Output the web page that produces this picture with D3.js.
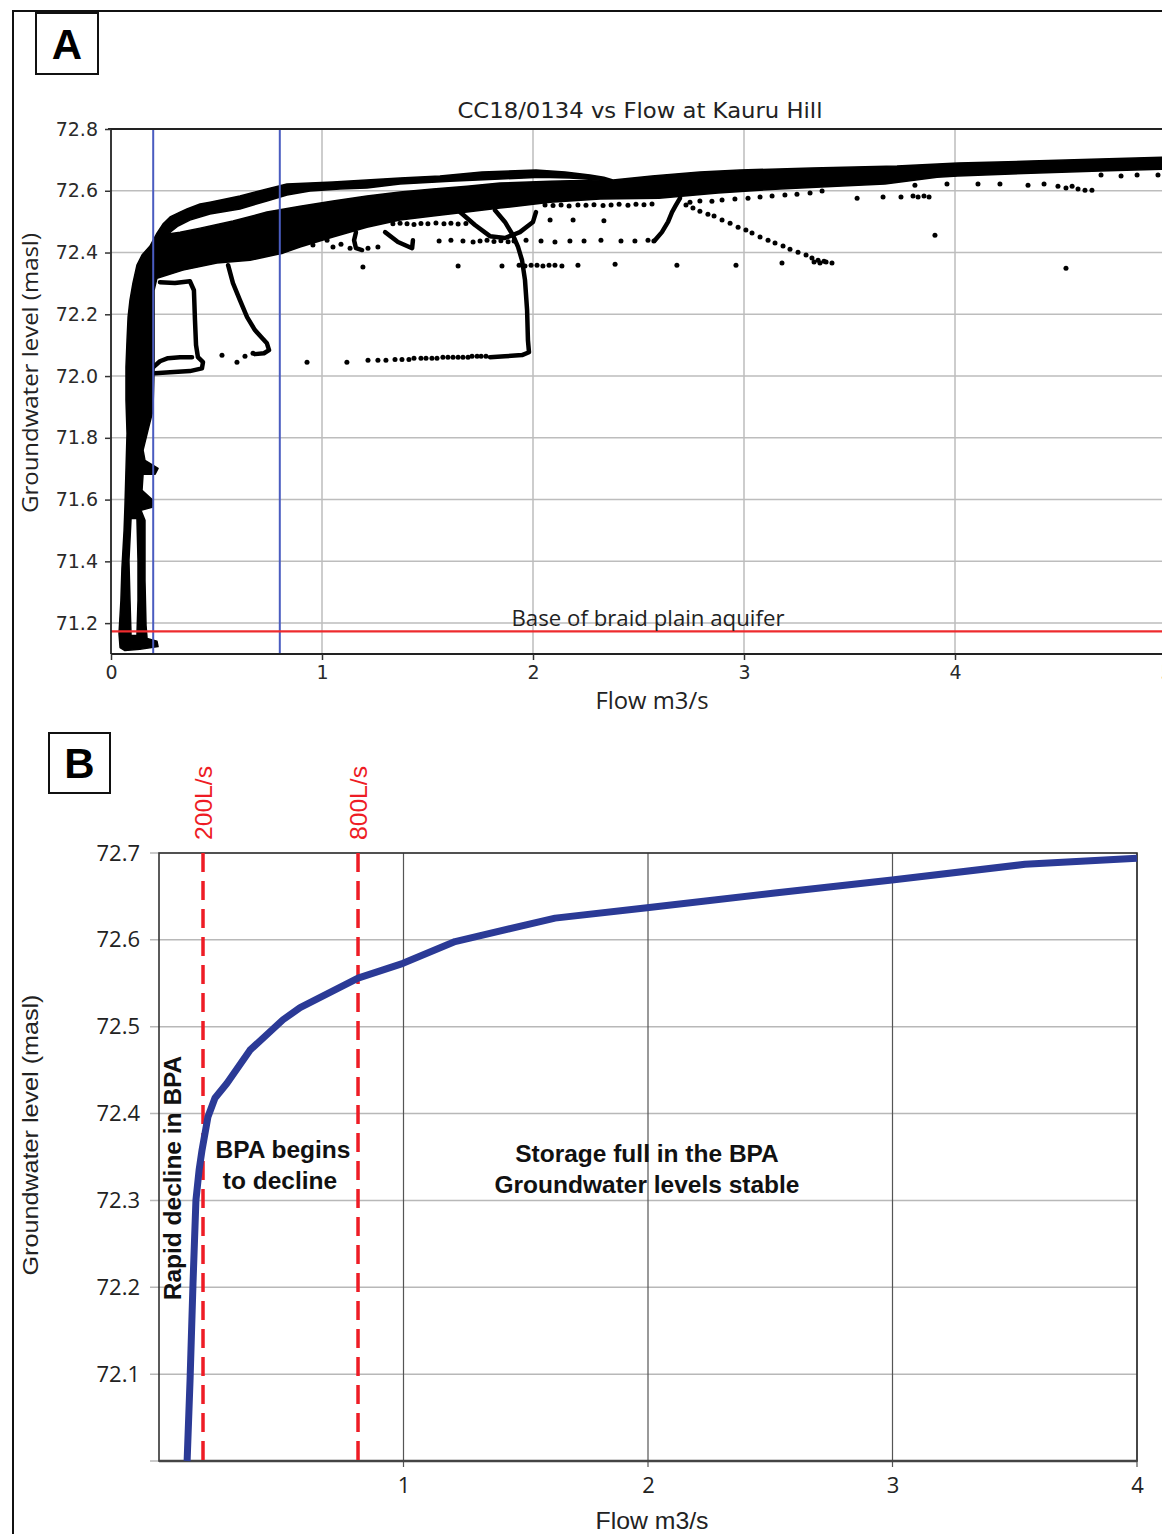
<!DOCTYPE html>
<html>
<head>
<meta charset="utf-8">
<script src="https://cdn.jsdelivr.net/npm/d3@7"></script>
<style>
  body { margin: 0; background: #fff; }
  svg { display: block; }
</style>
</head>
<body>
<svg id="fig" width="1162" height="1534"></svg>
<script>
// ---------- Panel A: CC18/0134 groundwater level vs flow (flow m3/s, level masl) ----------
const aFlowTicks = [0, 1, 2, 3, 4, 5];
const aLevelTicks = [71.2, 71.4, 71.6, 71.8, 72.0, 72.2, 72.4, 72.6, 72.8];
const aThresholds = [0.2, 0.8];
const aquiferBase = 71.173;

// outline of the saturated (overplotted) part of the scatter
const bandOutline = [
  [0.043,71.121],[0.038,71.166],[0.047,71.273],[0.052,71.380],[0.062,71.500],[0.066,71.575],
  [0.071,71.695],[0.076,71.815],[0.071,71.922],[0.071,72.029],[0.076,72.116],[0.081,72.191],
  [0.090,72.246],[0.104,72.301],[0.123,72.359],[0.147,72.392],[0.185,72.421],[0.218,72.463],
  [0.246,72.492],[0.280,72.515],[0.327,72.531],[0.360,72.541],[0.422,72.557],[0.469,72.563],
  [0.611,72.583],[0.739,72.606],[0.834,72.622],[0.943,72.625],[1.052,72.628],[1.370,72.641],
  [1.559,72.648],[1.758,72.661],[2.014,72.667],[2.152,72.661],[2.270,72.651],[2.336,72.644],
  [2.379,72.635],[2.564,72.648],[2.791,72.661],[2.981,72.667],[3.322,72.674],[3.725,72.680],
  [4.014,72.690],[4.360,72.696],[4.687,72.703],[5.000,72.709],
  [5.000,72.670],[4.687,72.664],[4.360,72.657],[4.014,72.648],[3.915,72.644],[3.668,72.622],
  [3.441,72.615],[3.171,72.606],[2.877,72.593],[2.597,72.576],[2.318,72.573],[2.081,72.563],
  [1.844,72.544],[1.687,72.531],[1.526,72.518],[1.370,72.505],[1.213,72.482],[1.052,72.450],
  [0.896,72.418],[0.815,72.398],[0.659,72.375],[0.502,72.366],[0.341,72.343],[0.218,72.317],
  [0.204,72.278],[0.204,72.149],[0.204,72.019],[0.199,71.889],[0.175,71.824],[0.152,71.760],
  [0.161,71.727],[0.223,71.701],[0.209,71.682],[0.152,71.682],[0.147,71.630],[0.199,71.598],
  [0.194,71.575],[0.142,71.565],[0.161,71.533],[0.161,71.338],[0.166,71.192],[0.171,71.150],
  [0.218,71.141],[0.223,71.124],[0.137,71.115],[0.066,71.111]
];
const columnHole = [
  [0.095,71.539],[0.123,71.539],[0.128,71.403],[0.128,71.273],[0.123,71.160],
  [0.095,71.160],[0.090,71.273],[0.085,71.403]
];
const lensHole = [
  [0.270,72.460],[0.318,72.486],[0.374,72.505],[0.469,72.525],[0.611,72.541],[0.739,72.567],
  [0.834,72.586],[0.943,72.599],[1.085,72.606],[1.213,72.609],[1.370,72.622],[1.607,72.631],
  [1.844,72.638],[2.033,72.644],[2.175,72.641],[2.318,72.635],
  [2.081,72.631],[1.844,72.625],[1.687,72.615],[1.526,72.606],[1.370,72.596],[1.213,72.583],
  [1.052,72.567],[0.896,72.550],[0.739,72.531],[0.578,72.502],[0.422,72.479],[0.327,72.466]
];

// recession tracks that leave the main band
const tracks = [
  [[0.232,72.304],[0.303,72.301],[0.374,72.307],[0.393,72.278],[0.398,72.181],[0.403,72.100],
   [0.412,72.061],[0.436,72.045],[0.431,72.025],[0.374,72.016],[0.280,72.012],[0.209,72.009]],
  [[0.194,72.025],[0.232,72.048],[0.270,72.058],[0.327,72.061],[0.384,72.061]],
  [[0.555,72.359],[0.578,72.301],[0.611,72.246],[0.645,72.191],[0.682,72.149],[0.716,72.123],
   [0.739,72.106],[0.749,72.084],[0.725,72.074],[0.682,72.071]],
  [[1.820,72.537],[1.867,72.499],[1.905,72.456],[1.929,72.418],[1.948,72.375],[1.962,72.311],
   [1.972,72.213],[1.976,72.116],[1.981,72.077],[1.948,72.068],[1.867,72.064],[1.796,72.061]],
  [[1.654,72.531],[1.725,72.489],[1.796,72.453],[1.867,72.447],[1.938,72.466],[2.000,72.499],
   [2.014,72.531]],
  [[2.578,72.440],[2.611,72.466],[2.640,72.499],[2.659,72.531],[2.678,72.554],[2.697,72.576]],
  [[1.161,72.466],[1.152,72.440],[1.161,72.414],[1.190,72.408]],
  [[1.299,72.466],[1.360,72.434],[1.427,72.414],[1.431,72.440]]
];

// single readings away from the band
const scatterDots = [
  [1.336,72.493],[1.370,72.495],[1.403,72.493],[1.436,72.491],[1.469,72.494],[1.502,72.493],
  [1.540,72.496],[1.578,72.493],[1.611,72.495],[1.645,72.492],[1.682,72.494],[2.081,72.505],
  [2.190,72.505],[2.336,72.503],
  [1.555,72.437],[1.611,72.440],[1.668,72.437],[1.716,72.434],[1.749,72.437],[1.782,72.440],
  [1.815,72.436],[1.848,72.438],[1.882,72.435],[1.910,72.437],[1.967,72.440],[2.038,72.437],
  [2.104,72.434],[2.175,72.437],[2.242,72.437],[2.322,72.440],[2.417,72.437],[2.483,72.437],
  [2.545,72.440],[2.573,72.437],
  [1.194,72.353],[1.645,72.356],[1.853,72.356],[1.934,72.359],[1.962,72.356],[1.991,72.359],
  [2.019,72.359],[2.047,72.356],[2.076,72.359],[2.104,72.359],[2.137,72.356],[2.213,72.359],
  [2.389,72.362],[2.682,72.359],[2.962,72.359],[3.180,72.366],[3.332,72.369],[3.360,72.366],
  [3.389,72.369],[3.417,72.366],[4.526,72.349],
  [0.526,72.067],[0.597,72.045],[0.635,72.064],[0.673,72.074],[0.929,72.045],[1.118,72.045],
  [1.218,72.051],[1.265,72.051],[1.303,72.051],[1.346,72.054],[1.379,72.054],[1.412,72.054],
  [1.436,72.058],[1.469,72.058],[1.493,72.058],[1.521,72.058],[1.545,72.058],[1.573,72.061],
  [1.597,72.061],[1.621,72.061],[1.645,72.061],[1.668,72.061],[1.692,72.061],[1.711,72.064],
  [1.735,72.064],[1.754,72.064],[1.777,72.064],
  [2.057,72.554],[2.095,72.552],[2.133,72.554],[2.171,72.551],[2.213,72.554],[2.251,72.553],
  [2.289,72.555],[2.332,72.552],[2.370,72.554],[2.408,72.556],[2.450,72.553],[2.488,72.556],
  [2.526,72.555],[2.564,72.557],
  [2.744,72.563],[2.791,72.567],[2.848,72.566],[2.896,72.570],[2.957,72.573],[3.019,72.576],
  [3.076,72.580],[3.133,72.583],[3.194,72.586],[3.251,72.589],[3.313,72.593],[3.370,72.599],
  [3.536,72.576],[3.659,72.580],[3.744,72.580],[3.801,72.583],[3.825,72.580],[3.853,72.583],
  [3.877,72.580],[3.905,72.456],
  [3.810,72.618],[3.962,72.622],[4.109,72.622],[4.213,72.622],[4.346,72.618],[4.422,72.622],
  [4.488,72.615],[4.526,72.609],[4.555,72.615],[4.583,72.606],[4.616,72.602],[4.649,72.602],
  [4.692,72.651],[4.787,72.648],[4.863,72.651],[4.962,72.651],
  [2.725,72.554],[2.758,72.544],[2.791,72.534],[2.829,72.524],[2.858,72.518],[2.896,72.505],
  [2.934,72.495],[2.972,72.482],[3.009,72.473],[3.038,72.463],[3.076,72.450],[3.114,72.440],
  [3.147,72.431],[3.185,72.421],[3.218,72.411],[3.256,72.401],[3.294,72.392],[3.322,72.382],
  [3.351,72.375],[3.379,72.372],
  [0.929,72.447],[0.957,72.424],[1.024,72.440],[1.052,72.418],[1.090,72.427],[1.133,72.414],
  [1.218,72.414],[1.265,72.418]
];

// ---------- Panel B: generalised response curve ----------
const bFlow  = [0.115, 0.127, 0.139, 0.151, 0.164, 0.176, 0.200, 0.229, 0.278, 0.372, 0.507,
                0.577, 0.814, 0.998, 1.211, 1.620, 1.996, 2.519, 2.998, 3.542, 4.000];
const bLevel = [72.000, 72.093, 72.204, 72.300, 72.335, 72.358, 72.396, 72.418, 72.435, 72.473, 72.508,
                72.522, 72.556, 72.573, 72.598, 72.625, 72.637, 72.654, 72.669, 72.687, 72.694];
const bFlowTicks = [1, 2, 3, 4];
const bLevelTicks = [72.0, 72.1, 72.2, 72.3, 72.4, 72.5, 72.6, 72.7];
const bThresholds = [0.18, 0.814];
const bThresholdLabels = ["200L/s", "800L/s"];

const svg = d3.select("#fig");

// outer frame of the figure
svg.append("line").attr("x1", 12).attr("x2", 1162).attr("y1", 11).attr("y2", 11)
  .attr("stroke", "#111").attr("stroke-width", 2);
svg.append("line").attr("x1", 13).attr("x2", 13).attr("y1", 10).attr("y2", 1534)
  .attr("stroke", "#111").attr("stroke-width", 2);

function panelLetter(x, y, w, h, txt) {
  svg.append("rect").attr("x", x).attr("y", y).attr("width", w).attr("height", h)
    .attr("fill", "#fff").attr("stroke", "#111").attr("stroke-width", 2);
  svg.append("text").attr("x", x + w / 2).attr("y", y + h / 2 + 15)
    .attr("text-anchor", "middle").attr("font-family", "Liberation Sans, Arial, sans-serif")
    .attr("font-weight", "bold").attr("font-size", 42).text(txt);
}

// ================= Panel A =================
const xA = d3.scaleLinear().domain([0, 5]).range([111, 1166]);
const yA = d3.scaleLinear().domain([71.1, 72.8]).range([654, 129]);
const gA = svg.append("g");

// grid
gA.append("g").selectAll("line").data(aLevelTicks).join("line")
  .attr("x1", xA(0)).attr("x2", 1162).attr("y1", d => yA(d)).attr("y2", d => yA(d))
  .attr("stroke", "#bdbdbd").attr("stroke-width", 1.5);
gA.append("g").selectAll("line").data(aFlowTicks.slice(1)).join("line")
  .attr("x1", d => xA(d)).attr("x2", d => xA(d)).attr("y1", yA(72.8)).attr("y2", yA(71.1))
  .attr("stroke", "#bdbdbd").attr("stroke-width", 1.5);

// scatter: overplotted band drawn as a filled region, tracks as thick strokes, lone dots
const toPts = ring => ring.map(d => [xA(d[0]), yA(d[1])]);
const ringPath = d3.line().curve(d3.curveLinearClosed);
gA.append("path")
  .attr("d", [bandOutline, columnHole, lensHole].map(r => ringPath(toPts(r))).join(" "))
  .attr("fill", "#000").attr("fill-rule", "evenodd")
  .attr("stroke", "#000").attr("stroke-width", 1.5).attr("stroke-linejoin", "round");

const trackLine = d3.line().x(d => xA(d[0])).y(d => yA(d[1]));
gA.append("g").selectAll("path").data(tracks).join("path")
  .attr("d", trackLine).attr("fill", "none").attr("stroke", "#000")
  .attr("stroke-width", 4.5).attr("stroke-linecap", "round").attr("stroke-linejoin", "round");

gA.append("g").selectAll("circle").data(scatterDots).join("circle")
  .attr("cx", d => xA(d[0])).attr("cy", d => yA(d[1])).attr("r", 2.5).attr("fill", "#000");

// flow thresholds and aquifer base
gA.append("g").selectAll("line").data(aThresholds).join("line")
  .attr("x1", d => xA(d)).attr("x2", d => xA(d)).attr("y1", yA(72.8)).attr("y2", yA(71.1))
  .attr("stroke", "#4a5cc0").attr("stroke-width", 2);
gA.append("line").attr("x1", xA(0)).attr("x2", 1162)
  .attr("y1", yA(aquiferBase)).attr("y2", yA(aquiferBase))
  .attr("stroke", "#ee2b2e").attr("stroke-width", 2.2);

// spines
gA.append("line").attr("x1", xA(0) - 3).attr("x2", 1162).attr("y1", yA(72.8)).attr("y2", yA(72.8))
  .attr("stroke", "#222").attr("stroke-width", 2);
gA.append("line").attr("x1", xA(0)).attr("x2", xA(0)).attr("y1", yA(72.8)).attr("y2", yA(71.1))
  .attr("stroke", "#222").attr("stroke-width", 1.8);
gA.append("line").attr("x1", xA(0)).attr("x2", 1162).attr("y1", yA(71.1)).attr("y2", yA(71.1))
  .attr("stroke", "#222").attr("stroke-width", 1.8);

// axes
const axA_y = gA.append("g").attr("transform", `translate(${xA(0)},0)`)
  .call(d3.axisLeft(yA).tickValues(aLevelTicks).tickFormat(d3.format(".1f")).tickSize(6).tickPadding(7));
const axA_x = gA.append("g").attr("transform", `translate(0,${yA(71.1)})`)
  .call(d3.axisBottom(xA).tickValues(aFlowTicks).tickFormat(d3.format("d")).tickSize(6).tickPadding(6));
[axA_y, axA_x].forEach(ax => {
  ax.select(".domain").remove();
  ax.selectAll(".tick line").attr("stroke", "#333").attr("stroke-width", 1.5);
  ax.selectAll("text").attr("font-family", "DejaVu Sans, sans-serif").attr("font-size", 19).attr("fill", "#2a2a2a");
});

gA.append("text").attr("x", 640).attr("y", 118).attr("text-anchor", "middle")
  .attr("font-family", "DejaVu Sans, sans-serif").attr("font-size", 22).attr("fill", "#222")
  .attr("textLength", 365).attr("lengthAdjust", "spacingAndGlyphs")
  .text("CC18/0134 vs Flow at Kauru Hill");
gA.append("text").attr("x", 648).attr("y", 626).attr("text-anchor", "middle")
  .attr("font-family", "Open Sans, sans-serif").attr("font-size", 22).attr("fill", "#222")
  .attr("textLength", 273).attr("lengthAdjust", "spacingAndGlyphs")
  .text("Base of braid plain aquifer");
gA.append("text").attr("x", 652).attr("y", 709).attr("text-anchor", "middle")
  .attr("font-family", "Open Sans, sans-serif").attr("font-size", 23).attr("fill", "#222")
  .attr("textLength", 113).attr("lengthAdjust", "spacingAndGlyphs")
  .text("Flow m3/s");
gA.append("text").attr("transform", "translate(38,373) rotate(-90)").attr("text-anchor", "middle")
  .attr("font-family", "Open Sans, sans-serif").attr("font-size", 22).attr("fill", "#222")
  .attr("textLength", 280).attr("lengthAdjust", "spacingAndGlyphs")
  .text("Groundwater level (masl)");

panelLetter(36, 13, 62, 61, "A");

// ================= Panel B =================
const xB = d3.scaleLinear().domain([0, 4]).range([159, 1137]);
const yB = d3.scaleLinear().domain([72.0, 72.7]).range([1461, 853]);
const gB = svg.append("g");

gB.append("g").selectAll("line").data(bLevelTicks).join("line")
  .attr("x1", xB(0) - 9).attr("x2", xB(4)).attr("y1", d => yB(d)).attr("y2", d => yB(d))
  .attr("stroke", "#b8b8b8").attr("stroke-width", 1.5);
gB.append("g").selectAll("line").data(bFlowTicks).join("line")
  .attr("x1", d => xB(d)).attr("x2", d => xB(d)).attr("y1", yB(72.7)).attr("y2", yB(72.0) + 6)
  .attr("stroke", "#555").attr("stroke-width", 1.2);

// frame of the plot
gB.append("rect").attr("x", xB(0)).attr("y", yB(72.7))
  .attr("width", xB(4) - xB(0)).attr("height", yB(72.0) - yB(72.7))
  .attr("fill", "none").attr("stroke", "#333").attr("stroke-width", 1.6);
gB.append("line").attr("x1", xB(0)).attr("x2", xB(4)).attr("y1", yB(72.0)).attr("y2", yB(72.0))
  .attr("stroke", "#444").attr("stroke-width", 2.4);

// thresholds
gB.append("g").selectAll("line").data(bThresholds).join("line")
  .attr("x1", d => xB(d)).attr("x2", d => xB(d)).attr("y1", yB(72.7)).attr("y2", yB(72.0) + 5)
  .attr("stroke", "#ee1c25").attr("stroke-width", 3.5).attr("stroke-dasharray", "19 9");
gB.append("g").selectAll("text").data(bThresholds).join("text")
  .attr("transform", d => `translate(${xB(d)},803) rotate(-90)`)
  .attr("text-anchor", "middle").attr("dy", "0.36em")
  .attr("font-family", "Liberation Sans, Arial, sans-serif").attr("font-size", 24)
  .attr("fill", "#ee1c25").attr("textLength", 74).attr("lengthAdjust", "spacingAndGlyphs")
  .text((d, i) => bThresholdLabels[i]);

// response curve
const curveB = d3.line().x(d => xB(d[0])).y(d => yB(d[1]));
gB.append("path").datum(d3.zip(bFlow, bLevel)).attr("d", curveB)
  .attr("fill", "none").attr("stroke", "#2b3a96").attr("stroke-width", 7)
  .attr("stroke-linejoin", "round");

// axes
const axB_y = gB.append("g").attr("transform", `translate(${xB(0) - 1},0)`)
  .call(d3.axisLeft(yB).tickValues(bLevelTicks).tickFormat(d => d === 72.0 ? "" : d3.format(".1f")(d))
    .tickSize(0).tickPadding(18));
const axB_x = gB.append("g").attr("transform", `translate(0,${yB(72.0)})`)
  .call(d3.axisBottom(xB).tickValues(bFlowTicks).tickFormat(d3.format("d")).tickSize(0).tickPadding(16));
[axB_y, axB_x].forEach(ax => {
  ax.select(".domain").remove();
  ax.selectAll("text").attr("font-family", "Open Sans, sans-serif").attr("font-size", 22).attr("fill", "#222");
});

const bold = { family: "Liberation Sans, Arial, sans-serif", size: 24.5 };
function boldText(x, y, s, rot) {
  const t = gB.append("text").attr("text-anchor", "middle")
    .attr("font-family", bold.family).attr("font-weight", "bold").attr("font-size", bold.size)
    .attr("fill", "#111").text(s);
  if (rot) t.attr("transform", `translate(${x},${y}) rotate(-90)`);
  else t.attr("x", x).attr("y", y);
  return t;
}
boldText(181, 1178, "Rapid decline in BPA", true);
boldText(283, 1158, "BPA begins");
boldText(280, 1189, "to decline");
boldText(647, 1162, "Storage full in the BPA");
boldText(647, 1193, "Groundwater levels stable");

gB.append("text").attr("x", 652).attr("y", 1529).attr("text-anchor", "middle")
  .attr("font-family", "Liberation Sans, Arial, sans-serif").attr("font-size", 24).attr("fill", "#222")
  .attr("textLength", 113).attr("lengthAdjust", "spacingAndGlyphs")
  .text("Flow m3/s");
gB.append("text").attr("transform", "translate(38,1135) rotate(-90)").attr("text-anchor", "middle")
  .attr("font-family", "Liberation Sans, Arial, sans-serif").attr("font-size", 22).attr("fill", "#222")
  .attr("textLength", 281).attr("lengthAdjust", "spacingAndGlyphs")
  .text("Groundwater level (masl)");

panelLetter(49, 733, 61, 60, "B");
</script>
</body>
</html>
